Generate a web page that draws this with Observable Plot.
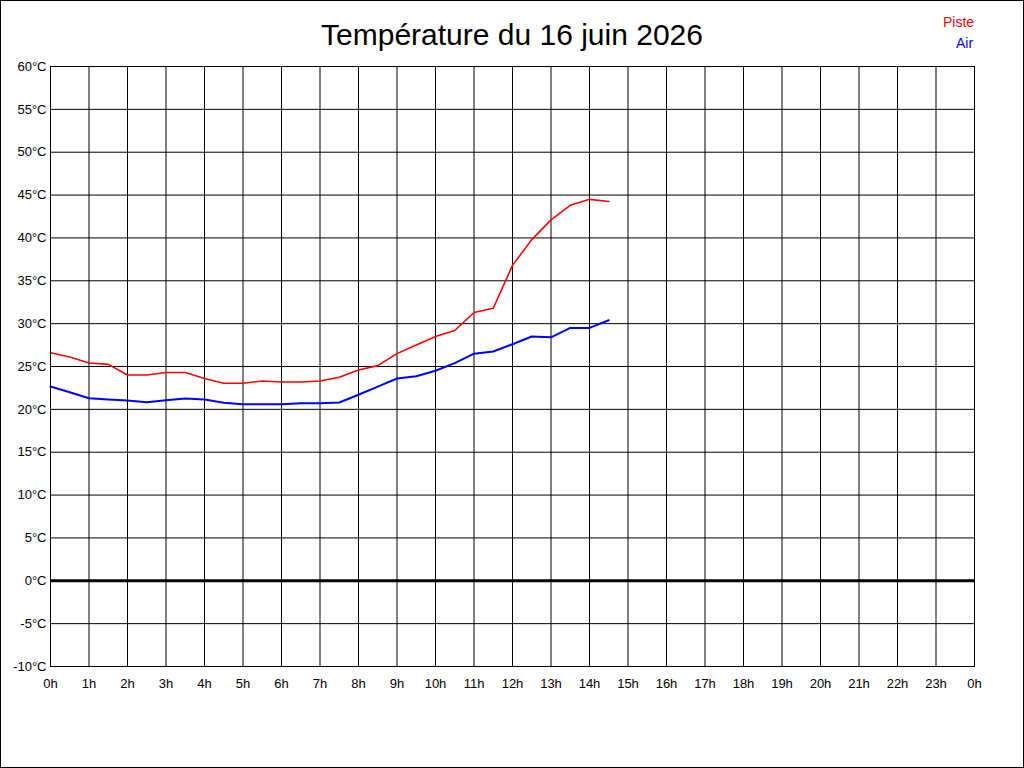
<!DOCTYPE html>
<html><head><meta charset="utf-8">
<script src="https://cdn.jsdelivr.net/npm/d3@7"></script>
<script src="https://cdn.jsdelivr.net/npm/@observablehq/plot@0.6"></script>
<style>
body{margin:0;background:#fff;}
#wrap{position:relative;width:1024px;height:768px;overflow:hidden;font-family:"Liberation Sans",Arial,sans-serif;background:#fff;}
#chart{position:absolute;left:0;top:0;}
#frame{position:absolute;left:0;top:0;width:1022px;height:766px;border:1px solid #000;pointer-events:none;}
#title{position:absolute;left:0;width:1024px;top:18px;text-align:center;font-size:30px;line-height:34px;color:#000;}
.leg{position:absolute;font-size:14px;line-height:16px;}
</style></head>
<body>
<div id="wrap">
  <div id="chart"></div>
  <div id="title">Température du 16 juin 2026</div>
  <div class="leg" style="left:943px;top:14px;color:#ff0000;">Piste</div>
  <div class="leg" style="left:956px;top:35px;color:#0000ff;">Air</div>
  <div id="frame"></div>
</div>
<script>
const hours = [0,0.5,1,1.5,2,2.5,3,3.5,4,4.5,5,5.5,6,6.5,7,7.5,8,8.5,9,9.5,10,10.5,11,11.5,12,12.5,13,13.5,14,14.5];
const piste = [26.6,26.1,25.4,25.25,24.0,24.0,24.3,24.3,23.6,23.05,23.05,23.3,23.2,23.2,23.3,23.75,24.6,25.1,26.5,27.5,28.5,29.2,31.3,31.8,36.8,39.8,42.1,43.8,44.5,44.25];
const air = [22.66,22.0,21.3,21.15,21.03,20.83,21.07,21.26,21.15,20.76,20.6,20.6,20.6,20.7,20.7,20.8,21.7,22.66,23.6,23.87,24.5,25.4,26.5,26.75,27.6,28.5,28.4,29.5,29.5,30.4];
const xTicks = d3.range(0, 25);
const yTicks = d3.range(-10, 61, 5);

const pisteRows = hours.map((h, i) => ({h, t: piste[i]}));
const airRows = hours.map((h, i) => ({h, t: air[i]}));

const chart = Plot.plot({
  width: 1024, height: 768,
  marginLeft: 50, marginRight: 50, marginTop: 66, marginBottom: 102,
  x: {domain: [0, 24], label: null},
  y: {domain: [-10, 60], label: null},
  style: {fontFamily: '"Liberation Sans", Arial, sans-serif', fontSize: "13px", background: "transparent", color: "#000"},
  marks: [
    Plot.ruleX(xTicks, {stroke: "#000", strokeWidth: 1}),
    Plot.ruleY(yTicks, {stroke: "#000", strokeWidth: 1}),
    Plot.ruleY([0], {stroke: "#000", strokeWidth: 3}),
    Plot.line(pisteRows, {x: "h", y: "t", stroke: "#ff0000", strokeWidth: 1.6}),
    Plot.line(airRows, {x: "h", y: "t", stroke: "#0000ff", strokeWidth: 2}),
    Plot.axisX({ticks: xTicks, tickSize: 0, tickPadding: 12, tickFormat: d => (d % 24) + "h", fill: "#000", label: null}),
    Plot.axisY({ticks: yTicks, tickSize: 0, tickPadding: 4, tickFormat: d => d + "°C", fill: "#000", label: null}),
    Plot.frame({stroke: "#000"})
  ]
});
document.getElementById("chart").appendChild(chart);
</script>
</body></html>
